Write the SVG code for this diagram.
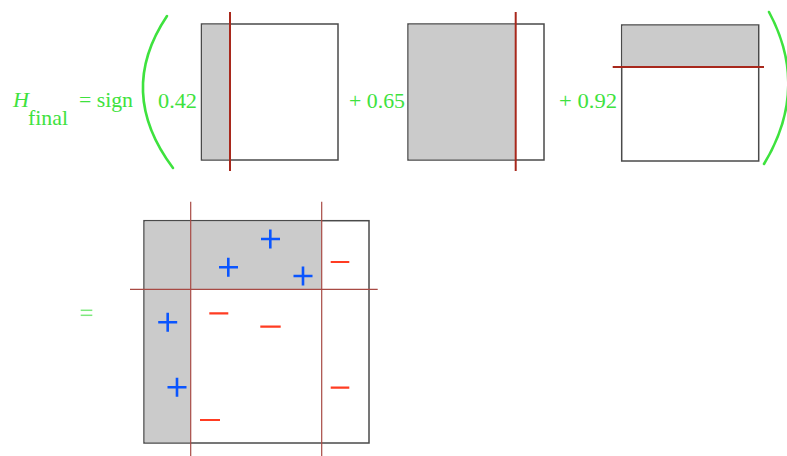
<svg xmlns="http://www.w3.org/2000/svg" width="787" height="456" viewBox="0 0 787 456">
<style>
.t{font-family:"Liberation Serif","Times New Roman",serif;fill:#3ee23e;font-size:21px}
.box{fill:#fff;stroke:#4a4a4a;stroke-width:1.5}
.sh{fill:#cbcbcb;stroke:none}
.cut{stroke:#a8281c;stroke-width:2}
.cut2{stroke:#a84a44;stroke-width:1.2}
.par{fill:none;stroke:#3ee23e;stroke-width:2.6;stroke-linecap:round}
.pl{stroke:#0a55ff;stroke-width:2.6}
.mi{stroke:#ff3c22;stroke-width:2.2}
</style>
<rect width="787" height="456" fill="#fff"/>
<g id="formula">
<text class="t" x="13" y="107" font-style="italic" textLength="16" lengthAdjust="spacingAndGlyphs">H</text>
<text class="t" x="28" y="125" textLength="40" lengthAdjust="spacingAndGlyphs">final</text>
<text class="t" x="79" y="107" textLength="54" lengthAdjust="spacingAndGlyphs">= sign</text>
<path class="par" d="M167,16 Q116,92 173,168"/>
<text class="t" x="158" y="108" textLength="39" lengthAdjust="spacingAndGlyphs">0.42</text>
<text class="t" x="349" y="108" textLength="56" lengthAdjust="spacingAndGlyphs">+ 0.65</text>
<text class="t" x="559" y="108" textLength="58" lengthAdjust="spacingAndGlyphs">+ 0.92</text>
<path class="par" d="M769,12 Q810,88 764,164"/>
</g>
<g id="stump1">
<rect class="box" x="201.5" y="24" width="136.5" height="136"/>
<rect class="sh" x="202.2" y="24.7" width="27.8" height="134.6"/>
<line class="cut" x1="230" y1="12" x2="230" y2="171"/>
</g>
<g id="stump2">
<rect class="box" x="408" y="24" width="136" height="136"/>
<rect class="sh" x="408.7" y="24.7" width="107" height="134.6"/>
<line class="cut" x1="515.7" y1="12" x2="515.7" y2="171"/>
</g>
<g id="stump3">
<rect class="box" x="621.7" y="25" width="137" height="136"/>
<rect class="sh" x="622.4" y="25.7" width="135.6" height="41.3"/>
<line class="cut" x1="612.7" y1="67" x2="764" y2="67"/>
</g>
<g id="equals">
<line x1="80.7" y1="310.3" x2="92.3" y2="310.3" stroke="#7de87d" stroke-width="1.5"/>
<line x1="80.7" y1="315.3" x2="92.3" y2="315.3" stroke="#7de87d" stroke-width="1.5"/>
</g>
<g id="combined">
<rect class="box" x="144" y="220.7" width="225" height="222.3"/>
<path class="sh" d="M144.7,221.4 H321.7 V289.3 H190.7 V442.3 H144.7 Z"/>
<line class="cut2" x1="190.7" y1="201.7" x2="190.7" y2="456"/>
<line class="cut2" x1="321.7" y1="201.7" x2="321.7" y2="456"/>
<line class="cut2" x1="130" y1="289.3" x2="377.7" y2="289.3"/>
</g>
<g id="points">
<path class="pl" d="M261,239H280M270.3,229.5V248.5"/>
<path class="pl" d="M219,267.3H238M228.3,257.8V276.8"/>
<path class="pl" d="M293.5,276H312.5M303,266.5V285.5"/>
<path class="pl" d="M158.2,322.3H177.2M167.7,312.8V331.8"/>
<path class="pl" d="M167.5,387.3H186.5M177,377.8V396.8"/>
<path class="mi" d="M330.7,262H349.3M209.3,313.3H228.3M260.3,326.7H280.7M330.7,387.7H349.3M200,420H220"/>
</g>
</svg>
